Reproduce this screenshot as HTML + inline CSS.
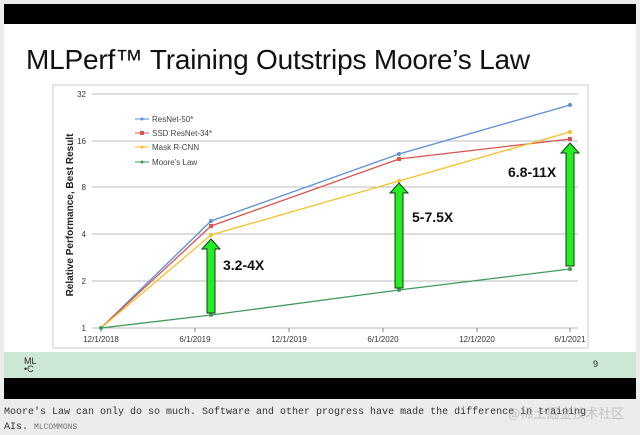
<!DOCTYPE html>
<html><head><meta charset="utf-8"><style>
body{margin:0;width:640px;height:434px;background:#ececec;overflow:hidden;font-family:"Liberation Sans",sans-serif;position:relative}
.cap{position:absolute;left:4px;top:405px;font-family:"Liberation Mono",monospace;font-size:10px;line-height:15px;color:#333;width:636px}
</style></head><body>
<div style="position:absolute;left:4px;top:4px;width:632px;height:20px;background:#000"></div>
<div style="position:absolute;left:4px;top:24px;width:632px;height:328px;background:#fff"></div>
<div style="position:absolute;left:4px;top:352px;width:632px;height:26px;background:#cde9d5"></div>
<div style="position:absolute;left:4px;top:378px;width:632px;height:21px;background:#000"></div>
<div style="position:absolute;left:26px;top:44px;font-size:28px;color:#111;white-space:nowrap;letter-spacing:-0.2px">MLPerf™ Training Outstrips Moore’s Law</div>
<div style="position:absolute;left:24px;top:357px;font-size:9px;line-height:8px;color:#222">ML<br>•C</div>
<div style="position:absolute;left:593px;top:359px;font-size:9px;color:#222">9</div>
<svg style="position:absolute;left:0;top:0" width="640" height="434">
<rect x="53" y="85" width="535" height="263" fill="#fff" stroke="#ccc"/>
<g stroke="#bbb" stroke-width="1">
<line x1="92" y1="94" x2="578" y2="94"/><line x1="92" y1="141" x2="578" y2="141"/><line x1="92" y1="187" x2="578" y2="187"/><line x1="92" y1="234" x2="578" y2="234"/><line x1="92" y1="281" x2="578" y2="281"/><line x1="92" y1="328" x2="578" y2="328"/>
</g>
<g stroke="#888"><line x1="101" y1="328" x2="101" y2="332"/><line x1="195" y1="328" x2="195" y2="332"/><line x1="289" y1="328" x2="289" y2="332"/><line x1="383" y1="328" x2="383" y2="332"/><line x1="477" y1="328" x2="477" y2="332"/><line x1="570" y1="328" x2="570" y2="332"/></g>
<g font-size="8" fill="#333" text-anchor="end">
<text x="86" y="97">32</text><text x="86" y="144">16</text><text x="86" y="190">8</text><text x="86" y="237">4</text><text x="86" y="284">2</text><text x="86" y="331">1</text></g>
<g font-size="8" fill="#333" text-anchor="middle">
<text x="101" y="342">12/1/2018</text><text x="195" y="342">6/1/2019</text><text x="289" y="342">12/1/2019</text><text x="383" y="342">6/1/2020</text><text x="477" y="342">12/1/2020</text><text x="570" y="342">6/1/2021</text></g>
<text transform="translate(73,215) rotate(-90)" font-size="10" font-weight="bold" fill="#222" text-anchor="middle">Relative Performance, Best Result</text>
<polyline points="101,328 211,221 399,154 570,105" fill="none" stroke="#5b8fd9" stroke-width="1.3"/>
<polyline points="101,328 211,226 399,159 570,139" fill="none" stroke="#d9534f" stroke-width="1.3"/>
<polyline points="101,328 211,235 399,181 570,132" fill="none" stroke="#f5c02a" stroke-width="1.3"/>
<polyline points="101,328 211,315 399,290 570,269" fill="none" stroke="#3f9b5a" stroke-width="1.3"/>
<g fill="#5b8fd9"><circle cx="211" cy="221" r="2"/><circle cx="399" cy="154" r="2"/><circle cx="570" cy="105" r="2"/></g>
<g fill="#d9534f"><rect x="209" y="224" width="4" height="4"/><rect x="397" y="157" width="4" height="4"/><rect x="568" y="137" width="4" height="4"/></g>
<g fill="#f5c02a"><circle cx="211" cy="235" r="2"/><circle cx="399" cy="181" r="2"/><circle cx="570" cy="132" r="2"/></g>
<g fill="#3f9b5a"><circle cx="101" cy="328" r="2"/><circle cx="211" cy="315" r="2"/><circle cx="399" cy="290" r="2"/><circle cx="570" cy="269" r="2"/></g>
<g stroke="#1a3a1a" stroke-width="1" fill="#22ee22">
<polygon points="207,313 215,313 215,249 220,249 211,239 202,249 207,249"/>
<polygon points="395,288 403,288 403,193 408,193 399,183 390,193 395,193"/>
<polygon points="566,266 574,266 574,153 579,153 570,143 561,153 566,153"/>
</g>
<g font-size="14" font-weight="bold" fill="#111">
<text x="223" y="270">3.2-4X</text><text x="412" y="222">5-7.5X</text><text x="508" y="177">6.8-11X</text></g>
<g font-size="8" fill="#444">
<line x1="135" y1="119" x2="149" y2="119" stroke="#5b8fd9"/><circle cx="142" cy="119" r="1.5" fill="#5b8fd9"/><text x="152" y="122">ResNet-50*</text>
<line x1="135" y1="133" x2="149" y2="133" stroke="#d9534f"/><rect x="140" y="131" width="4" height="4" fill="#d9534f"/><text x="152" y="136">SSD ResNet-34*</text>
<line x1="135" y1="147" x2="149" y2="147" stroke="#f5c02a"/><circle cx="142" cy="147" r="1.5" fill="#f5c02a"/><text x="152" y="150">Mask R-CNN</text>
<line x1="135" y1="162" x2="149" y2="162" stroke="#3f9b5a"/><circle cx="142" cy="162" r="1.5" fill="#3f9b5a"/><text x="152" y="165">Moore’s Law</text>
</g>
</svg>
<div class="cap">Moore's Law can only do so much. Software and other progress have made the difference in training<br>AIs. <span style="font-size:8px;color:#777">MLCOMMONS</span></div>
<div style="position:absolute;left:508px;top:403px;font-size:13px;color:rgba(150,150,150,0.5);font-family:'Noto Sans CJK SC',sans-serif">@稀土掘金技术社区</div>
</body></html>
